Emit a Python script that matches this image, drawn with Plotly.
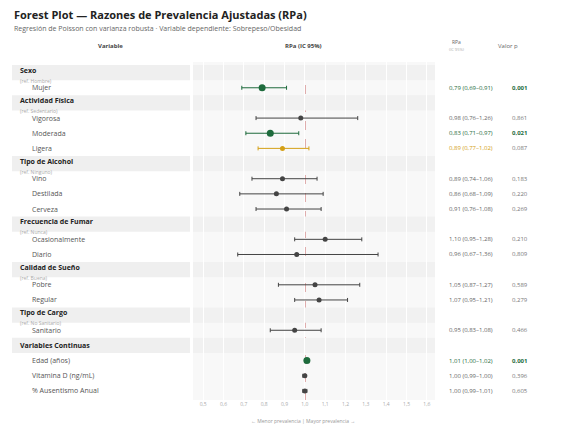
import plotly.graph_objects as go

# filas: (etiqueta, tipo) tipo "g" = grupo
labels = ["Sexo", "Mujer", "Actividad Física", "Vigorosa", "Moderada", "Ligera",
          "Tipo de Alcohol", "Vino", "Destilada", "Cerveza",
          "Frecuencia de Fumar", "Ocasionalmente", "Diario",
          "Calidad de Sueño", "Pobre", "Regular", "Tipo de Cargo", "Sanitario",
          "Variables Continuas", "Edad (años)", "Vitamina D (ng/mL)", "% Ausentismo Anual"]
refs = {"Sexo": "(ref. Hombre)", "Actividad Física": "(ref. Sedentario)",
        "Tipo de Alcohol": "(ref. Ninguno)", "Frecuencia de Fumar": "(ref. Nunca)",
        "Calidad de Sueño": "(ref. Buena)", "Tipo de Cargo": "(ref. No Sanitario)",
        "Variables Continuas": ""}
rpa = [None, 0.79, None, 0.98, 0.83, 0.89, None, 0.89, 0.86, 0.91, None, 1.10, 0.96,
       None, 1.05, 1.07, None, 0.95, None, 1.01, 1.00, 1.00]
lo = [None, 0.69, None, 0.76, 0.71, 0.77, None, 0.74, 0.68, 0.76, None, 0.95, 0.67,
      None, 0.87, 0.95, None, 0.83, None, 1.00, 0.99, 0.99]
hi = [None, 0.91, None, 1.26, 0.97, 1.02, None, 1.06, 1.09, 1.08, None, 1.28, 1.36,
      None, 1.27, 1.21, None, 1.08, None, 1.02, 1.00, 1.01]
pval = [None, "0,001", None, "0,861", "0,021", "0,087", None, "0,183", "0,220", "0,269",
        None, "0,210", "0,809", None, "0,589", "0,279", None, "0,466", None,
        "0,001", "0,396", "0,605"]

W, H, OFF = 561, 422, 8


def px(x):
    return (x - OFF) / W


GREEN, GOLD, GREY = "#1e6b3c", "#d4a017", "#444444"
fig = go.Figure()
shapes, ann = [], []
shapes.append(dict(type="line", xref="x", yref="paper", x0=1, x1=1, y0=0, y1=1, layer="below",
                   line=dict(color="#b22222", width=1, dash="dash")))
for i, lab in enumerate(labels):
    if lab in refs:
        shapes.append(dict(type="rect", xref="paper", yref="y", x0=px(12), x1=px(190),
                           y0=i-0.5, y1=i+0.5, fillcolor="#efefef", line_width=0, layer="below"))
        shapes.append(dict(type="rect", xref="x", yref="y", x0=0.45, x1=1.64,
                           y0=i-0.5, y1=i+0.5, fillcolor="#f1f1f1", line_width=0, layer="below"))
        ann.append(dict(x=px(18), y=i, xref="paper", yref="y", xanchor="left",
                        yanchor="bottom" if refs[lab] else "middle", yshift=-4 if refs[lab] else 0,
                        text="<b>"+lab+"</b>", showarrow=False, font=dict(size=7, color="#222")))
        if refs[lab]:
            ann.append(dict(x=px(18), y=i, xref="paper", yref="y", xanchor="left", yanchor="top",
                            yshift=-3, text=refs[lab], showarrow=False,
                            font=dict(size=5, color="#aaa")))
        continue
    p = float(pval[i].replace(",", "."))
    col = GREEN if p < 0.05 else (GOLD if p < 0.1 else GREY)
    tcol = GREEN if p < 0.05 else (GOLD if p < 0.1 else "#666")
    ann.append(dict(x=px(30), y=i, xref="paper", yref="y", xanchor="left", text=lab,
                    showarrow=False, font=dict(size=7, color="#555")))
    txt = f"{rpa[i]:.2f} ({lo[i]:.2f}–{hi[i]:.2f})".replace(".", ",")
    ann.append(dict(x=px(447), y=i, xref="paper", yref="y", xanchor="left", showarrow=False,
                    text=txt, font=dict(size=6, color=tcol)))
    ann.append(dict(x=px(520), y=i, xref="paper", yref="y", xanchor="center", showarrow=False,
                    text=("<b>%s</b>" % pval[i]) if p < 0.05 else pval[i],
                    font=dict(size=6, color=GREEN if p < 0.05 else "#777")))
    fig.add_trace(go.Scatter(
        x=[rpa[i]], y=[i], mode="markers",
        error_x=dict(type="data", symmetric=False, array=[hi[i]-rpa[i]], arrayminus=[rpa[i]-lo[i]],
                     color=col, thickness=1, width=2),
        marker=dict(color=col, size=7 if p < 0.05 else 5), showlegend=False))

ann += [
    dict(x=px(12), y=1, xref="paper", yref="paper", xanchor="left", yanchor="bottom", yshift=38,
         text="<b>Forest Plot — Razones de Prevalencia Ajustadas (RPa)</b>", showarrow=False,
         font=dict(size=11, color="#222")),
    dict(x=px(12), y=1, xref="paper", yref="paper", xanchor="left", yanchor="bottom", yshift=27,
         text="Regresión de Poisson con varianza robusta · Variable dependiente: Sobrepeso/Obesidad",
         showarrow=False, font=dict(size=7, color="#666")),
    dict(x=px(96), y=1, xref="paper", yref="paper", yanchor="bottom", yshift=10,
         text="<b>Variable</b>", showarrow=False, font=dict(size=6, color="#444")),
    dict(x=px(303), y=1, xref="paper", yref="paper", yanchor="bottom", yshift=10,
         text="<b>RPa (IC 95%)</b>", showarrow=False, font=dict(size=6, color="#444")),
    dict(x=px(467), y=1, xref="paper", yref="paper", yanchor="bottom", yshift=8,
         text="RPa<br><span style='font-size:4px;color:#aaa'>(IC 95%)</span>", showarrow=False,
         font=dict(size=5, color="#666")),
    dict(x=px(520), y=1, xref="paper", yref="paper", yanchor="bottom", yshift=10,
         text="Valor p", showarrow=False, font=dict(size=6, color="#666")),
    dict(x=px(303), y=0, xref="paper", yref="paper", yanchor="top", yshift=-16,
         text="← Menor prevalencia | Mayor prevalencia →", showarrow=False,
         font=dict(size=5, color="#999")),
]

fig.update_layout(
    width=W, height=H, margin=dict(l=0, r=0, t=54, b=30),
    paper_bgcolor="white", plot_bgcolor="#f8f8f8",
    font=dict(family="Open Sans"),
    xaxis=dict(domain=[px(193), px(435)], range=[0.45, 1.64], dtick=0.1, tick0=0.5,
               tickformat=".1f", gridcolor="white", gridwidth=1,
               tickfont=dict(size=5, color="#aaa"), zeroline=False, showline=False),
    yaxis=dict(range=[21.6, -0.7], visible=False),
    separators=",.",
    shapes=shapes, annotations=ann,
)
fig.write_html("out.html")
